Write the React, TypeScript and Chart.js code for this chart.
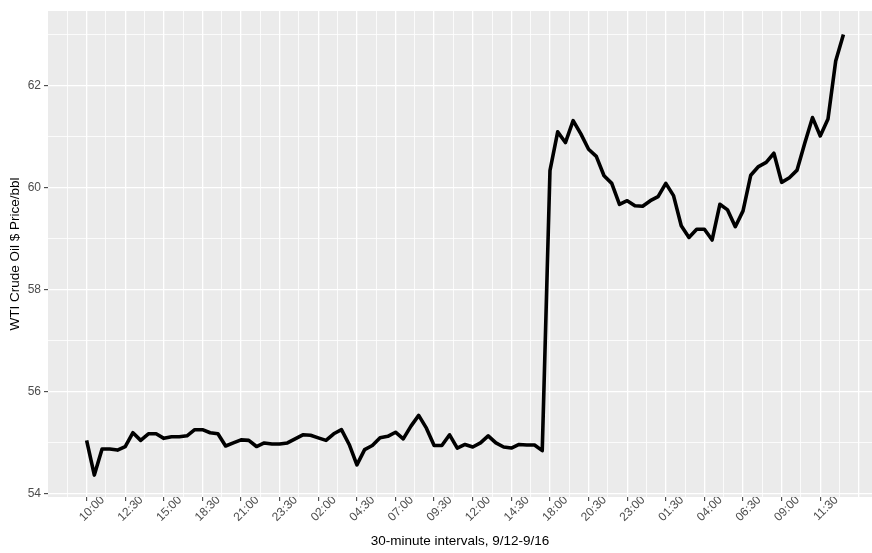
import { useEffect, useRef } from "react"
import { Chart, registerables } from "chart.js"

Chart.register(...registerables)

// WTI crude price per 30-minute interval, 9/12 10:00 through 9/16
const prices = [
  55.05, 54.37, 54.88, 54.88, 54.86, 54.93, 55.2, 55.05, 55.18, 55.18,
  55.09, 55.12, 55.12, 55.14, 55.26, 55.26, 55.2, 55.18, 54.94, 55.0,
  55.06, 55.05, 54.93, 55.0, 54.98, 54.98, 55.0, 55.08, 55.16, 55.15,
  55.1, 55.05, 55.18, 55.26, 54.97, 54.57, 54.87, 54.95, 55.1, 55.13,
  55.21, 55.08, 55.33, 55.54, 55.29, 54.95, 54.95, 55.16, 54.9, 54.97,
  54.92, 55.0, 55.14, 55.0, 54.92, 54.9, 54.97, 54.96, 54.96, 54.85,
  60.34, 61.1, 60.89, 61.32, 61.06, 60.76, 60.62, 60.24, 60.09, 59.68,
  59.75, 59.65, 59.64, 59.75, 59.83, 60.09, 59.85, 59.26, 59.03, 59.19,
  59.19, 58.98, 59.68, 59.57, 59.24, 59.55, 60.25, 60.42, 60.5, 60.68,
  60.11, 60.2, 60.35, 60.88, 61.38, 61.02, 61.35, 62.49, 63.01,
]

// one label every fifth interval
const timeLabels = [
  "10:00", "12:30", "15:00", "18:30", "21:00", "23:30", "02:00", "04:30", "07:00", "09:30",
  "12:00", "14:30", "18:00", "20:30", "23:00", "01:30", "04:00", "06:30", "09:00", "11:30",
]

const yTicks = [54, 55, 56, 57, 58, 59, 60, 61, 62, 63]

const panelBackground = {
  id: "panelBackground",
  beforeDraw(chart: Chart) {
    const { ctx, chartArea } = chart
    if (!chartArea) return
    ctx.save()
    ctx.fillStyle = "#EBEBEB"
    ctx.fillRect(chartArea.left, chartArea.top, chartArea.right - chartArea.left, chartArea.bottom - chartArea.top)
    ctx.restore()
  },
}

const lastLabelled = (timeLabels.length - 1) * 5

const isLabelled = (v: number) => v % 5 === 0 && v >= 0 && v <= lastLabelled

export default function App() {
  const chartRef = useRef<HTMLCanvasElement>(null)
  const chartInstance = useRef<Chart | null>(null)

  useEffect(() => {
    if (!chartRef.current) return
    document.body.style.margin = "0"

    // major ticks at labelled intervals, minor halfway between
    const xTicks: number[] = []
    for (let v = -2.5; v <= lastLabelled + 5; v += 2.5) xTicks.push(v)

    if (chartInstance.current) {
      chartInstance.current.destroy()
    }

    Chart.defaults.font.family = "'Liberation Sans', Arial, sans-serif"

    chartInstance.current = new Chart(chartRef.current, {
      type: "line",
      data: {
        datasets: [
          {
            data: prices.map((p, i) => ({ x: i, y: p })),
            borderColor: "#000000",
            borderWidth: 3.6,
            borderJoinStyle: "round",
            pointRadius: 0,
            tension: 0,
            fill: false,
          },
        ],
      },
      options: {
        responsive: true,
        maintainAspectRatio: false,
        animation: false,
        layout: { padding: { top: 11, right: 0, left: 0, bottom: 0 } },
        plugins: {
          legend: { display: false },
          tooltip: { enabled: false },
        },
        scales: {
          x: {
            type: "linear",
            min: -5,
            max: 101.7,
            afterBuildTicks: (scale: any) => {
              scale.ticks = xTicks.map((v) => ({ value: v }))
            },
            afterFit: (scale: any) => {
              scale.height = 56
            },
            border: { display: false },
            grid: {
              color: "#FFFFFF",
              lineWidth: (ctx: any) => (ctx.tick && ctx.tick.value % 5 === 0 ? 1.3 : 0.8),
              tickColor: (ctx: any) => (ctx.tick && isLabelled(ctx.tick.value) ? "#333333" : "rgba(0,0,0,0)"),
              tickLength: 4,
              tickWidth: 1,
            },
            ticks: {
              autoSkip: false,
              minRotation: 45,
              maxRotation: 45,
              padding: -8,
              labelOffset: 16,
              color: "#4D4D4D",
              font: { size: 12 },
              callback: (value: any) => {
                const v = Number(value)
                return isLabelled(v) ? timeLabels[v / 5] : ""
              },
            },
            title: {
              display: true,
              text: "30-minute intervals, 9/12-9/16",
              color: "#000000",
              font: { size: 13.5 },
              padding: { top: 0, bottom: 4 },
            },
          },
          y: {
            type: "linear",
            min: 53.94,
            max: 63.47,
            afterBuildTicks: (scale: any) => {
              scale.ticks = yTicks.map((v) => ({ value: v }))
            },
            afterFit: (scale: any) => {
              scale.width = 48
            },
            border: { display: false },
            grid: {
              color: "#FFFFFF",
              lineWidth: (ctx: any) => (ctx.tick && ctx.tick.value % 2 === 0 ? 1.3 : 0.8),
              tickColor: (ctx: any) => (ctx.tick && ctx.tick.value % 2 === 0 ? "#333333" : "rgba(0,0,0,0)"),
              tickLength: 4,
              tickWidth: 1,
            },
            ticks: {
              padding: 3,
              color: "#4D4D4D",
              font: { size: 12 },
              callback: (value: any) => (Number(value) % 2 === 0 ? String(value) : ""),
            },
            title: {
              display: true,
              text: "WTI Crude Oil $ Price/bbl",
              color: "#000000",
              font: { size: 13.5 },
              padding: { top: 7, bottom: 0 },
            },
          },
        },
      },
      plugins: [panelBackground],
    })

    return () => {
      if (chartInstance.current) {
        chartInstance.current.destroy()
        chartInstance.current = null
      }
    }
  }, [])

  return (
    <div style={{ position: "absolute", left: 0, top: 0, width: 872, height: 553 }}>
      <canvas ref={chartRef} />
    </div>
  )
}
